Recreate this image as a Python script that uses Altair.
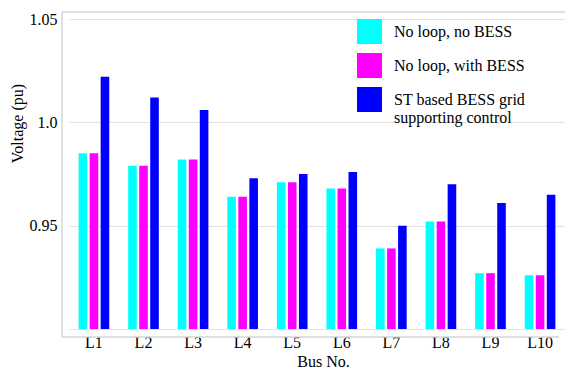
import altair as alt
import pandas as pd

# ---- data ----
buses = ["L1", "L2", "L3", "L4", "L5", "L6", "L7", "L8", "L9", "L10"]
series = ["No loop, no BESS", "No loop, with BESS", "ST based BESS grid supporting control"]
no_loop_no_bess = [0.985, 0.979, 0.982, 0.964, 0.971, 0.968, 0.939, 0.952, 0.927, 0.926]
no_loop_with_bess = [0.985, 0.979, 0.982, 0.964, 0.971, 0.968, 0.939, 0.952, 0.927, 0.926]
st_bess_control = [1.022, 1.012, 1.006, 0.973, 0.975, 0.976, 0.950, 0.970, 0.961, 0.965]
colors = ["#00FFFF", "#FF00FF", "#0000FF"]
y_ticks = [0.9, 0.95, 1.0, 1.05]
y_domain = [0.9, 1.05]
baseline = 0.9

rows = []
for s, vals in zip(series, [no_loop_no_bess, no_loop_with_bess, st_bess_control]):
    for b, v in zip(buses, vals):
        rows.append({"bus": b, "series": s, "voltage": v, "base": baseline})
df = pd.DataFrame(rows)

W, H = 496, 310
FONT = "'Liberation Serif', 'Times New Roman', Times, 'DejaVu Serif', serif"
FRAME = "#d6d6d6"

bars = alt.Chart(df).mark_bar().encode(
    x=alt.X(
        "bus:N",
        sort=buses,
        scale=alt.Scale(paddingInner=0.382, paddingOuter=0.194),
        axis=alt.Axis(
            title="Bus No.", labelAngle=0, domain=False, ticks=False, tickSize=0,
            labelPadding=5, grid=False, titleX=254, titleY=24, titleBaseline="top",
        ),
    ),
    xOffset=alt.XOffset("series:N", sort=series, scale=alt.Scale(paddingInner=0.22, paddingOuter=0)),
    y=alt.Y(
        "voltage:Q",
        scale=alt.Scale(domain=y_domain, zero=False, nice=False),
        axis=alt.Axis(
            title="Voltage (pu)", values=y_ticks,
            labelExpr="datum.value < 0.92 ? '' : (datum.value == 1 ? '1.0' : format(datum.value, '.2f'))",
            domain=False, ticks=False, tickSize=0, labelPadding=12,
            gridColor="#e2e2e2", titleX=-44, titleY=104,
        ),
    ),
    y2=alt.Y2("base:Q"),
    color=alt.Color(
        "series:N",
        sort=series,
        scale=alt.Scale(domain=series, range=colors),
        legend=alt.Legend(
            title=None, orient="none", legendX=288, legendY=0,
            symbolType="square", symbolSize=625, symbolStrokeWidth=0,
            labelFont=FONT, labelFontSize=16, labelOffset=12, rowPadding=9,
            padding=0, labelLimit=400, labelAlign="left",
            labelExpr="datum.label == 'ST based BESS grid supporting control' ? ['ST based BESS grid', 'supporting control'] : datum.label",
        ),
    ),
)

one = pd.DataFrame({"k": [0]})
frame_left = alt.Chart(one).mark_rule(color=FRAME, strokeWidth=1.5).encode(
    x=alt.value(-7), y=alt.value(-7), y2=alt.value(H + 8)
)
frame_top = alt.Chart(one).mark_rule(color=FRAME, strokeWidth=1.5).encode(
    y=alt.value(-7), x=alt.value(-7), x2=alt.value(W + 8)
)
frame_bottom = alt.Chart(one).mark_rule(color=FRAME, strokeWidth=1.5).encode(
    y=alt.value(H + 8), x=alt.value(-7), x2=alt.value(W - 6)
)

chart = (
    alt.layer(frame_left, frame_top, frame_bottom, bars)
    .properties(
        width=W, height=H,
        autosize=alt.AutoSizeParams(type="none"),
        padding={"left": 61, "top": 11, "right": 0, "bottom": 39},
    )
    .configure(font=FONT)
    .configure_view(stroke=None)
    .configure_axis(
        labelFont=FONT, titleFont=FONT, labelFontSize=16, titleFontSize=16,
        labelColor="black", titleColor="black", titleFontWeight="normal",
    )
    .configure_legend(labelFont=FONT, labelColor="black")
)

chart.save("out.html", embed_options={"renderer": "svg", "actions": False})
